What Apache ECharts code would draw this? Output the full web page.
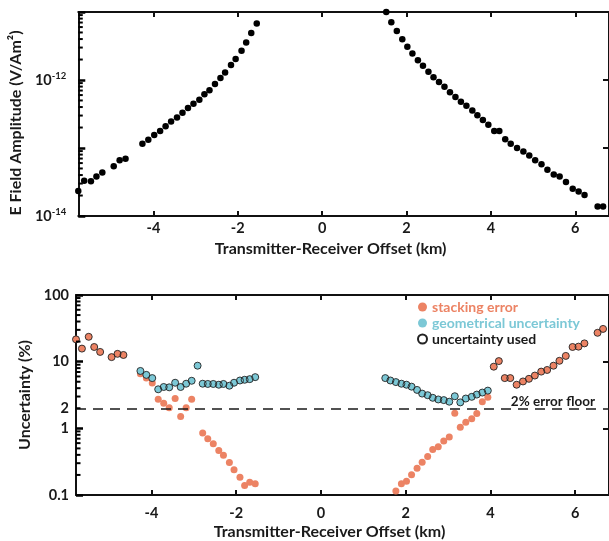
<!DOCTYPE html>
<html>
<head>
<meta charset="utf-8">
<script src="https://cdn.jsdelivr.net/npm/echarts@6/dist/echarts.min.js"></script>
<style>
  html, body { margin: 0; background: #fff; }
  #main { width: 609px; height: 541px; }
</style>
</head>
<body>
<div id="main"></div>
<script>
// transmitter-receiver offset (km), left group then right group
const offsetKm = [
  -5.78, -5.64, -5.48, -5.35, -5.21, -4.94, -4.80, -4.66, -4.26, -4.12,
  -3.98, -3.84, -3.71, -3.58, -3.44, -3.31, -3.18, -3.05, -2.91, -2.79,
  -2.67, -2.54, -2.41, -2.30, -2.16, -2.05, -1.91, -1.80, -1.68, -1.55,
  1.52, 1.64, 1.77, 1.90, 2.02, 2.14, 2.27, 2.39, 2.52, 2.64,
  2.77, 2.90, 3.03, 3.16, 3.29, 3.42, 3.56, 3.68, 3.81, 3.94,
  4.08, 4.20, 4.34, 4.47, 4.62, 4.77, 4.91, 5.05, 5.20, 5.34,
  5.49, 5.63, 5.78, 5.94, 6.08, 6.22, 6.53, 6.66
]

// E field amplitude (V/Am2)
const amplitude = [
  2.34e-14, 3.31e-14, 3.24e-14, 3.80e-14, 4.37e-14, 5.37e-14, 6.61e-14, 6.92e-14, 1.15e-13, 1.32e-13,
  1.55e-13, 1.78e-13, 2.09e-13, 2.45e-13, 2.82e-13, 3.31e-13, 3.89e-13, 4.47e-13, 5.13e-13, 6.17e-13,
  7.08e-13, 8.71e-13, 1.07e-12, 1.29e-12, 1.66e-12, 2.04e-12, 2.69e-12, 3.55e-12, 4.90e-12, 6.76e-12,
  1.00e-11, 7.08e-12, 5.25e-12, 3.98e-12, 3.09e-12, 2.45e-12, 1.95e-12, 1.62e-12, 1.32e-12, 1.10e-12,
  9.33e-13, 7.94e-13, 6.61e-13, 5.62e-13, 4.79e-13, 4.17e-13, 3.55e-13, 3.02e-13, 2.57e-13, 2.19e-13,
  1.78e-13, 1.78e-13, 1.35e-13, 1.15e-13, 1.00e-13, 8.91e-14, 7.76e-14, 6.61e-14, 5.75e-14, 4.79e-14,
  4.07e-14, 3.80e-14, 3.16e-14, 2.51e-14, 2.29e-14, 2.04e-14, 1.38e-14, 1.38e-14
]

// stacking error (%)
const stackingError = [
  21.6, 15.7, 23.6, 16.6, 14.0, 11.7, 13.1, 12.6, 6.56, 5.67,
  4.78, 2.74, 2.37, 2.04, 2.80, 1.50, 2.04, 2.74, null, 0.853,
  0.70, 0.586, 0.467, 0.394, 0.307, 0.239, 0.184, 0.139, 0.156, 0.147,
  null, null, 0.115, 0.147, 0.161, 0.202, 0.253, 0.310, 0.377, 0.483,
  0.529, 0.643, 0.743, 1.68, 1.035, 1.23, 1.39, 1.67, 2.51, 2.93,
  8.41, 10.2, 5.67, 5.67, 4.51, 5.05, 5.53, 6.19, 7.09, 7.51,
  8.70, 10.3, 12.2, 16.6, 16.8, 18.8, 27.1, 31.0
]

// geometrical uncertainty (%)
const geomUncertainty = [
  null, null, null, null, null, null, null, null, 7.26, 6.34,
  5.67, 3.85, 4.17, 4.12, 4.83, 4.17, 4.67, 5.17, 8.7, 4.67,
  4.63, 4.63, 4.51, 4.63, 4.36, 4.83, 5.22, 5.35, 5.47, 5.86,
  5.67, 5.22, 4.94, 4.67, 4.51, 4.22, 3.77, 3.32, 3.14, 2.87,
  2.71, 2.65, 2.51, 3.03, 2.45, 2.80, 2.97, 3.21, 3.44, 3.68,
  null, null, null, null, null, null, null, null, null, null,
  null, null, null, null, null, null, null, null
]

const xTickValues = [-4, -2, 0, 2, 4, 6]
const uncertaintyLabels = [0.1, 1, 2, 10, 100]
const errorFloor = 2
const X_MIN = -5.78
const X_MAX = 6.8

const FONT = 'Lato'
const ORANGE = '#EC8364'
const BLUE = '#7CC8D6'

// the larger of the two errors is the one that was used
const usedUncertainty = offsetKm.map((x, i) => {
  let a = stackingError[i]
  let b = geomUncertainty[i]
  if (a == null) return b
  if (b == null) return a
  return Math.max(a, b)
})

function pairs(values) {
  let out = []
  offsetKm.forEach((x, i) => {
    if (values[i] != null) out.push([x, values[i]])
  })
  return out
}

// 2..9 x 10^e, the usual log minor ticks
function minorValues(lo, hi) {
  let arr = []
  for (let e = lo; e < hi; e++) {
    for (let m = 2; m < 10; m++) arr.push(Number((m * Math.pow(10, e)).toPrecision(3)))
  }
  return arr
}

const axisLine = { onZero: false, lineStyle: { color: '#111', width: 2 } }
const tickLabel = { fontFamily: FONT, fontSize: 14.5, fontWeight: 'bold', color: '#1a1a1a' }
const titleStyle = { fontFamily: FONT, fontSize: 16, fontWeight: 'bold', color: '#1a1a1a' }

function xAxes(gridIndex, labelMargin, nameGap) {
  return [
    {
      type: 'value', gridIndex, min: X_MIN, max: X_MAX,
      axisLine,
      splitLine: { show: false },
      axisTick: { inside: true, length: 5, customValues: xTickValues, lineStyle: { width: 2, color: '#111' } },
      axisLabel: Object.assign({ customValues: xTickValues, margin: labelMargin }, tickLabel),
      name: 'Transmitter-Receiver Offset (km)',
      nameLocation: 'middle',
      nameGap,
      nameTextStyle: Object.assign({ padding: [0, 26, 0, 0] }, titleStyle)
    },
    {
      type: 'value', gridIndex, min: X_MIN, max: X_MAX, position: 'top',
      axisLine,
      splitLine: { show: false },
      axisTick: { inside: true, length: 5, customValues: xTickValues, lineStyle: { width: 2, color: '#111' } },
      axisLabel: { show: false }
    }
  ]
}

// left log axis with decade ticks and the right frame
function logAxes(gridIndex, min, max, main) {
  return [
    Object.assign({
      type: 'log', gridIndex, min, max, position: 'left',
      axisLine,
      splitLine: { show: false },
      axisTick: { show: true, inside: true, length: 7, lineStyle: { width: 2.5, color: '#000' } }
    }, main),
    {
      type: 'log', gridIndex, min, max, position: 'right',
      axisLine,
      splitLine: { show: false },
      axisTick: { inside: true, length: 6, lineStyle: { width: 2, color: '#111' } },
      axisLabel: { show: false }
    }
  ]
}

// short minor ticks along the left axis, placed through the axis scales
function minorTickSeries(xAxisIndex, yAxisIndex, lo, hi) {
  return {
    type: 'custom',
    xAxisIndex, yAxisIndex,
    silent: true,
    clip: false,
    z: 5,
    data: minorValues(lo, hi).map(v => [X_MIN, v]),
    renderItem: (params, api) => {
      let p = api.coord([api.value(0), api.value(1)])
      return {
        type: 'line',
        shape: { x1: p[0], y1: p[1], x2: p[0] + 4.5, y2: p[1] },
        style: { stroke: '#000', lineWidth: 2 }
      }
    }
  }
}

const chart = echarts.init(document.getElementById('main'), null, { renderer: 'canvas' })

chart.setOption({
  animation: false,
  grid: [
    { left: 76, top: 12, width: 536, height: 204 },
    { left: 76, top: 295, width: 536, height: 203 }
  ],
  legend: {
    orient: 'vertical',
    left: 412,
    top: 294,
    icon: 'circle',
    itemWidth: 9,
    itemHeight: 9,
    itemGap: 0,
    textStyle: { fontFamily: FONT, fontSize: 14, lineHeight: 16, fontWeight: 'bold' },
    data: [
      { name: 'stacking error', textStyle: { color: ORANGE } },
      { name: 'geometrical uncertainty', textStyle: { color: BLUE } },
      { name: 'uncertainty used', textStyle: { color: '#1a1a1a' } }
    ]
  },
  xAxis: [].concat(xAxes(0, 5, 25), xAxes(1, 11, 29)),
  yAxis: [].concat(
    logAxes(0, 1e-14, 1e-11, {
      axisLabel: {
        margin: 12,
        formatter: v => {
          let e = Math.round(Math.log10(v))
          return (e === -14 || e === -12) ? `{b|10}{s|${e}}` : ''
        },
        rich: {
          b: { fontFamily: FONT, fontSize: 14.5, fontWeight: 'bold', color: '#1a1a1a' },
          s: { fontFamily: FONT, fontSize: 9.5, fontWeight: 'bold', color: '#1a1a1a', verticalAlign: 'top', padding: [0, 0, 9, 0] }
        }
      },
      name: 'E Field Amplitude (V/Am\u00B2)',
      nameLocation: 'middle',
      nameGap: 50,
      nameTextStyle: Object.assign({ padding: [0, 18, 0, 0] }, titleStyle)
    }),
    logAxes(1, 0.1, 100, {
      axisLabel: Object.assign({ margin: 7, customValues: uncertaintyLabels }, tickLabel),
      name: 'Uncertainty (%)',
      nameLocation: 'middle',
      nameGap: 37,
      nameTextStyle: titleStyle
    })
  ),
  series: [
    minorTickSeries(0, 0, -14, -11),
    minorTickSeries(2, 2, -1, 2),
    {
      name: 'amplitude',
      type: 'scatter',
      xAxisIndex: 0, yAxisIndex: 0,
      clip: false,
      symbolSize: 6.5,
      itemStyle: { color: '#000', opacity: 1 },
      data: pairs(amplitude)
    },
    {
      name: 'stacking error',
      type: 'scatter',
      xAxisIndex: 2, yAxisIndex: 2,
      clip: false,
      symbolSize: 7,
      itemStyle: { color: ORANGE, opacity: 1 },
      data: pairs(stackingError),
      markLine: {
        silent: true,
        symbol: 'none',
        lineStyle: { color: '#1a1a1a', width: 1.6, type: [10, 7] },
        label: {
          show: true,
          position: 'insideEndTop',
          distance: [14, 0],
          formatter: '2% error floor',
          fontFamily: FONT, fontSize: 13.5, fontWeight: 'bold', color: '#1a1a1a'
        },
        data: [{ yAxis: errorFloor }]
      }
    },
    {
      name: 'geometrical uncertainty',
      type: 'scatter',
      xAxisIndex: 2, yAxisIndex: 2,
      clip: false,
      symbolSize: 7,
      itemStyle: { color: BLUE, opacity: 1 },
      data: pairs(geomUncertainty)
    },
    {
      name: 'uncertainty used',
      type: 'scatter',
      xAxisIndex: 2, yAxisIndex: 2,
      clip: false,
      symbolSize: 7,
      itemStyle: { color: 'rgba(0,0,0,0)', borderColor: '#222', borderWidth: 0.9, opacity: 1 },
      data: pairs(usedUncertainty)
    }
  ]
})
</script>
</body>
</html>
